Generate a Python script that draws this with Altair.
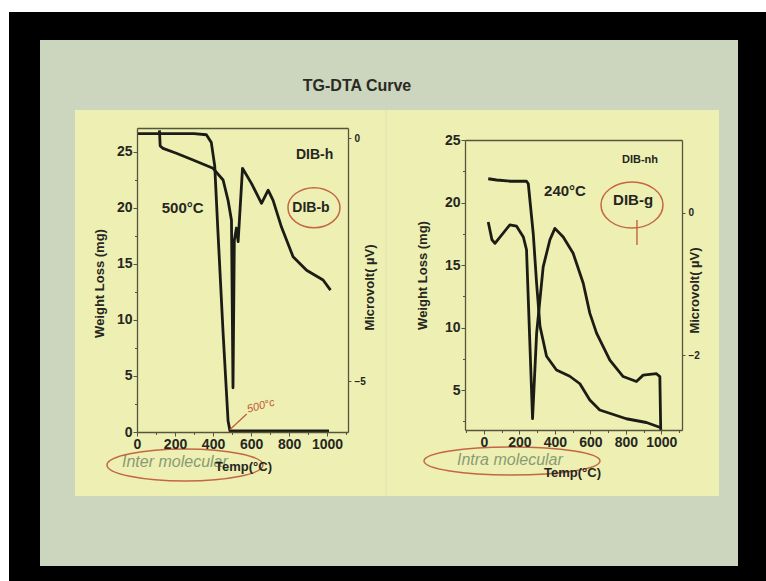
import altair as alt
import pandas as pd

# ---------------- data ----------------
# Left panel: DIB-b (inter molecular) — TG on left axis (mg), DTA on right axis (µV)
inter_tg_temp = [0, 100, 200, 300, 365, 391, 409, 426, 453, 479, 489, 600, 800, 1010]
inter_tg_mass = [26.6, 26.6, 26.6, 26.6, 26.5, 25.8, 23.7, 17.8, 8.8, 1.0, 0.1, 0.1, 0.1, 0.1]
inter_dta_temp = [118, 122, 137, 207, 295, 400, 453, 479, 497, 505, 512, 523, 532, 555,
                  602, 655, 690, 716, 760, 821, 892, 979, 1018]
inter_dta_uv = [0.16, -0.16, -0.21, -0.31, -0.45, -0.62, -0.86, -1.28, -1.69, -5.14, -2.10,
                -1.85, -2.13, -0.62, -0.93, -1.34, -1.07, -1.28, -1.83, -2.44, -2.72, -2.92, -3.13]

# Right panel: DIB-g (intra molecular)
intra_tg_temp = [24, 71, 150, 240, 250, 278, 297, 316, 353, 409, 484, 541, 597, 653, 803, 916, 995]
intra_tg_mass = [21.9, 21.8, 21.7, 21.7, 21.5, 17.5, 13.5, 10.1, 7.7, 6.6, 6.1, 5.5, 4.2, 3.4,
                 2.7, 2.4, 2.0]
intra_dta_temp = [24, 45, 62, 146, 184, 222, 240, 274, 297, 334, 372, 400, 447, 503, 560, 597,
                  635, 710, 785, 860, 898, 973, 992, 997]
intra_dta_uv = [-0.13, -0.38, -0.43, -0.17, -0.19, -0.34, -0.52, -2.89, -1.69, -0.76, -0.38,
                -0.22, -0.34, -0.57, -0.99, -1.41, -1.69, -2.07, -2.30, -2.37, -2.28, -2.26,
                -2.30, -3.05]

# tick labels
temp_ticks = [0, 200, 400, 600, 800, 1000]
inter_mass_ticks = [0, 5, 10, 15, 20, 25]
intra_mass_ticks = [5, 10, 15, 20, 25]
inter_uv_ticks = [0, -5]
intra_uv_ticks = [0, -2]
inter_temp_minor = [100, 300, 500, 700, 900, 1100]
intra_temp_minor = [-100, 100, 300, 500, 700, 900, 1100]
mass_minor = [2.5, 7.5, 12.5, 17.5, 22.5]

# ---------------- styling ----------------
FONT = "Liberation Sans, Arial, sans-serif"
TXT = "#26261f"
LINE = "#1c1c16"
BOX = "#55553f"
RED = "#c0583a"
SLIDE = "#ccd5be"
PANEL = "#edf0b2"

# scales (pixel ranges place each panel on the slide)
xs1 = alt.Scale(domain=[0, 1110], range=[137, 348], nice=False, zero=False)
ys1 = alt.Scale(domain=[0, 27.1], range=[432, 128], nice=False, zero=False)
yr1 = alt.Scale(domain=[-6.05, 0.21], range=[432, 128], nice=False, zero=False)
xs2 = alt.Scale(domain=[-107, 1117], range=[465, 682], nice=False, zero=False)
ys2 = alt.Scale(domain=[1.8, 25], range=[430, 140], nice=False, zero=False)
yr2 = alt.Scale(domain=[-3.05, 1.02], range=[430, 140], nice=False, zero=False)

ax_common = dict(zindex=1, grid=False, labelFont=FONT, labelFontWeight="bold", labelColor=TXT,
                 titleFont=FONT, titleFontWeight="bold", titleColor=TXT, domainColor=BOX,
                 tickColor=BOX, domainWidth=1.3, labelOverlap=False, labelFlush=False)


def frame_df(temps, vals):
    return pd.DataFrame({"t": temps, "v": vals, "i": list(range(len(temps)))})


def one():
    return pd.DataFrame({"a": [0]})


def panel(tg_t, tg_m, dta_t, dta_v, xs, ys, yr, mass_ticks, uv_ticks, temp_minor,
          x_left, x_right, y_top, y_bottom, ytitle_x, ytitle_y, rtitle_x, rtitle_y, xtitle_x, xtitle_y):
    tg = frame_df(tg_t, tg_m)
    dta = frame_df(dta_t, dta_v)
    tg_layer = alt.Chart(tg).mark_line(color=LINE, strokeWidth=2.8, strokeJoin="round").encode(
        x=alt.X("t:Q", scale=xs, axis=alt.Axis(
            orient="bottom", offset=y_bottom - 581, values=temp_ticks, format="d",
            labelFontSize=14, tickSize=4, labelPadding=1, title="Temp(°C)", titleFontSize=13,
            titleX=xtitle_x, titleY=xtitle_y, titleAlign="center", titleBaseline="middle", **ax_common)),
        y=alt.Y("v:Q", scale=ys, axis=alt.Axis(
            orient="left", offset=-x_left, values=mass_ticks, labelFontSize=14, tickSize=4,
            labelPadding=1, title="Weight Loss (mg)", titleFontSize=13, titleAngle=270,
            titleX=ytitle_x, titleY=ytitle_y, titleAlign="center", titleBaseline="middle", **ax_common)),
        order="i:Q",
    )
    dta_layer = alt.Chart(dta).mark_line(color=LINE, strokeWidth=2.8, strokeJoin="round").encode(
        x=alt.X("t:Q", scale=xs, axis=alt.Axis(
            orient="top", offset=-y_top, labels=False, ticks=False, title=None, **ax_common)),
        y=alt.Y("v:Q", scale=yr, axis=alt.Axis(
            orient="right", offset=x_right - 766, values=uv_ticks, labelFontSize=10,
            tickSize=3, labelPadding=3, format="d", title="Microvolt( µV)", titleFontSize=13,
            titleAngle=270, titleX=rtitle_x, titleY=rtitle_y, titleAlign="center",
            titleBaseline="middle", **ax_common)),
        order="i:Q",
    )
    minor_layer = alt.Chart(tg).mark_point(opacity=0).encode(
        x=alt.X("t:Q", scale=xs, axis=alt.Axis(
            orient="bottom", offset=y_bottom - 581, values=temp_minor, labels=False,
            domain=False, tickSize=2.5, title=None, **ax_common)),
        y=alt.Y("v:Q", scale=ys, axis=alt.Axis(
            orient="left", offset=-x_left, values=mass_minor, labels=False, domain=False,
            tickSize=2.5, title=None, **ax_common)),
    )
    return [tg_layer, dta_layer, minor_layer]


def label(text, t, m, xs, ys, size, weight="bold", color=TXT, style="normal", angle=0):
    return alt.Chart(pd.DataFrame({"t": [t], "m": [m], "s": [text]})).mark_text(
        font=FONT, fontSize=size, fontWeight=weight, fontStyle=style, color=color,
        align="center", baseline="middle", angle=angle).encode(
        x=alt.X("t:Q", scale=xs, axis=None),
        y=alt.Y("m:Q", scale=ys, axis=None),
        text="s:N")


def ellipse_path(ratio):
    return f"M -1 0 A 1 {ratio} 0 1 1 1 0 A 1 {ratio} 0 1 1 -1 0 Z"


def ring(t, m, xs, ys, rx, ry):
    return alt.Chart(pd.DataFrame({"t": [t], "m": [m]})).mark_point(
        shape=ellipse_path(round(ry / rx, 3)), size=(2 * rx) ** 2, filled=False,
        stroke=RED, strokeWidth=1.5, opacity=0.9).encode(
        x=alt.X("t:Q", scale=xs, axis=None),
        y=alt.Y("m:Q", scale=ys, axis=None))


# ---------------- slide background ----------------
bg = [
    alt.Chart(one()).mark_rect(color="#000000").encode(
        x=alt.value(9), x2=alt.value(766), y=alt.value(12), y2=alt.value(581)),
    alt.Chart(one()).mark_rect(color=SLIDE).encode(
        x=alt.value(40), x2=alt.value(738), y=alt.value(40), y2=alt.value(566)),
    alt.Chart(one()).mark_rect(color=PANEL).encode(
        x=alt.value(75), x2=alt.value(719), y=alt.value(110), y2=alt.value(496)),
    alt.Chart(one()).mark_rule(color="#dfe2b6", strokeWidth=1.2).encode(
        x=alt.value(386), y=alt.value(110), y2=alt.value(496)),
    alt.Chart(pd.DataFrame({"s": ["TG-DTA Curve"]})).mark_text(
        font=FONT, fontSize=16, fontWeight="bold", color="#2a2a22", align="center",
        baseline="middle").encode(x=alt.value(357), y=alt.value(86), text="s:N"),
]

left = panel(inter_tg_temp, inter_tg_mass, inter_dta_temp, inter_dta_uv, xs1, ys1, yr1,
             inter_mass_ticks, inter_uv_ticks, inter_temp_minor,
             137, 348, 128, 432, -38, 283, 21, 287, 243, 34)
right = panel(intra_tg_temp, intra_tg_mass, intra_dta_temp, intra_dta_uv, xs2, ys2, yr2,
              intra_mass_ticks, intra_uv_ticks, intra_temp_minor,
              465, 682, 140, 430, -43, 275, 12, 290, 572, 42)

notes = [
    label("DIB-h", 934, 24.7, xs1, ys1, 14),
    label("500°C", 240, 20.0, xs1, ys1, 15),
    label("DIB-b", 915, 20.0, xs1, ys1, 14),
    ring(931, 20.0, xs1, ys1, 26, 20),
    label("500°c", 652, 2.3, xs1, ys1, 11, weight="normal", color=RED, style="italic", angle=345),
    alt.Chart(pd.DataFrame({"t": [488], "t2": [577], "m": [0.2], "m2": [1.6]})).mark_rule(
        color=RED, strokeWidth=1.2).encode(
        x=alt.X("t:Q", scale=xs1, axis=None), x2="t2:Q",
        y=alt.Y("m:Q", scale=ys1, axis=None), y2="m2:Q"),
    label("DIB-nh", 880, 23.4, xs2, ys2, 11),
    label("240°C", 457, 20.9, xs2, ys2, 15),
    label("DIB-g", 841, 20.2, xs2, ys2, 15),
    ring(835, 19.8, xs2, ys2, 31, 23),
    alt.Chart(pd.DataFrame({"t": [863], "m": [18.6], "m2": [16.6]})).mark_rule(
        color=RED, strokeWidth=1.3).encode(
        x=alt.X("t:Q", scale=xs2, axis=None),
        y=alt.Y("m:Q", scale=ys2, axis=None), y2="m2:Q"),
    # hand-written ellipses and notes under the axes
    alt.Chart(pd.DataFrame({"s": ["Inter molecular"]})).mark_text(
        font=FONT, fontSize=16, fontStyle="italic", color="#8a9a74", align="left",
        baseline="middle").encode(x=alt.value(122), y=alt.value(462), text="s:N"),
    alt.Chart(pd.DataFrame({"s": ["Intra  molecular"]})).mark_text(
        font=FONT, fontSize=16, fontStyle="italic", color="#8a9a74", align="left",
        baseline="middle").encode(x=alt.value(457), y=alt.value(460), text="s:N"),
    alt.Chart(one()).mark_point(shape=ellipse_path(0.205), size=156 ** 2, filled=False,
                                stroke=RED, strokeWidth=1.5, opacity=0.9).encode(
        x=alt.value(185), y=alt.value(465)),
    alt.Chart(one()).mark_point(shape=ellipse_path(0.16), size=176 ** 2, filled=False,
                                stroke=RED, strokeWidth=1.5, opacity=0.9).encode(
        x=alt.value(512), y=alt.value(461)),
]

chart = alt.layer(*bg, *left, *right, *notes).resolve_scale(
    x="independent", y="independent"
).properties(
    width=766, height=581, padding=0, background="#ffffff",
    autosize=alt.AutoSizeParams(type="none"),
).configure_view(stroke=None)

chart.save("out.html", embed_options={"renderer": "svg", "actions": False})
